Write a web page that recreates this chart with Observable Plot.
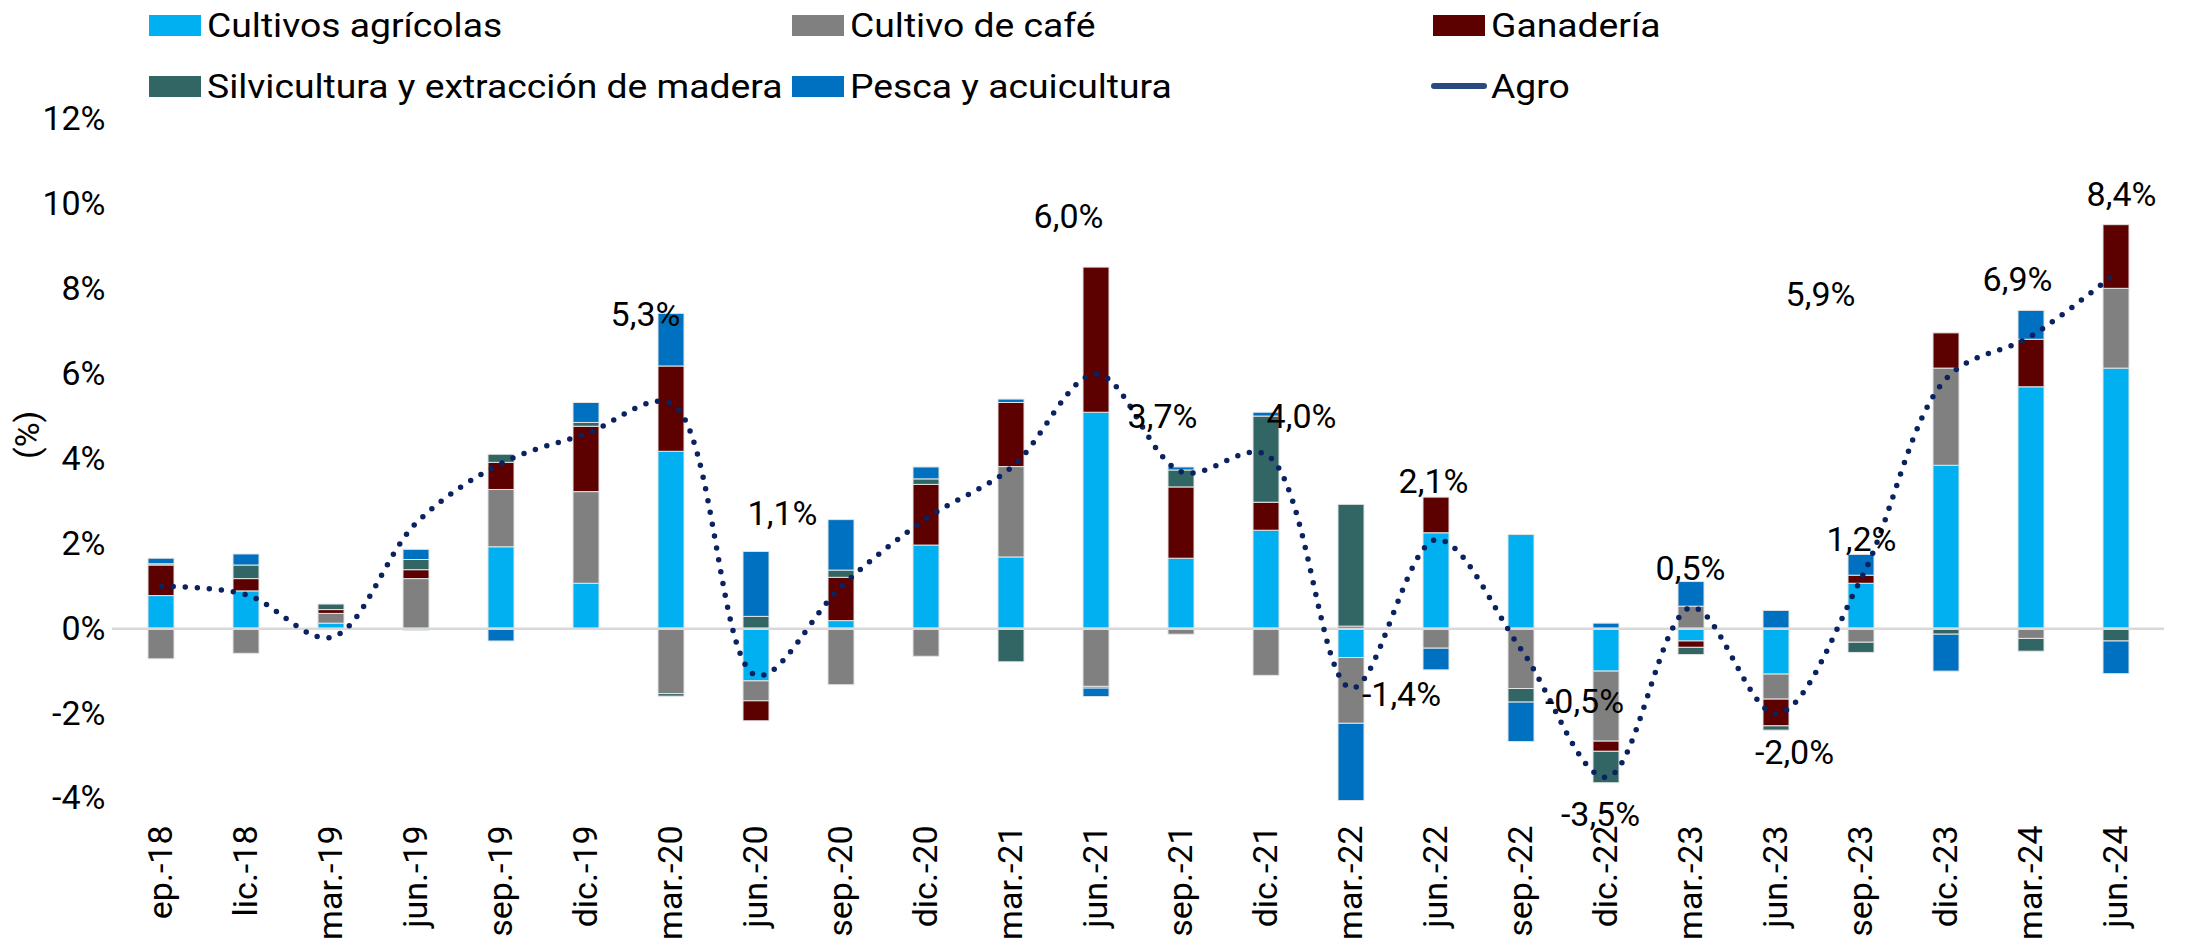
<!DOCTYPE html>
<html><head><meta charset="utf-8">
<script src="https://cdn.jsdelivr.net/npm/d3@7"></script>
<script src="https://cdn.jsdelivr.net/npm/@observablehq/plot@0.6"></script>
<style>
body{margin:0;background:#fff;font-family:Roboto,sans-serif;}
#legend{position:relative;width:2193px;height:100px;}
.item{position:absolute;display:flex;align-items:center;height:40px;font-size:33px;color:#000;white-space:nowrap;font-family:Roboto,sans-serif;}
.item .tx{display:inline-block;transform:scaleX(1.13);transform-origin:left center;}
.sw{display:inline-block;width:52px;height:21px;margin-right:6px;}
.ln{display:inline-block;width:56px;height:6px;border-radius:3px;margin-right:4px;}
</style></head><body>
<div id="legend"></div><div id="chart"></div>
<script>
// ---- DATA ----
const categories = ["ep.-18","lic.-18","mar.-19","jun.-19","sep.-19","dic.-19","mar.-20","jun.-20","sep.-20","dic.-20","mar.-21","jun.-21","sep.-21","dic.-21","mar.-22","jun.-22","sep.-22","dic.-22","mar.-23","jun.-23","sep.-23","dic.-23","mar.-24","jun.-24"];
const cultivosAgricolas = [0.77,0.88,0.12,-0.05,1.92,1.06,4.17,-1.24,0.18,1.96,1.68,5.09,1.65,2.31,-0.69,2.25,2.21,-1.01,-0.30,-1.08,1.06,3.84,5.69,6.13];
const cultivoCafe = [-0.72,-0.59,0.23,1.17,1.35,2.16,-1.54,-0.47,-1.33,-0.66,2.13,-1.37,-0.14,-1.11,-1.55,-0.47,-1.42,-1.65,0.52,-0.59,-0.33,2.29,-0.24,1.88];
const ganaderia = [0.72,0.29,0.09,0.21,0.64,1.54,2.01,-0.47,1.02,1.43,1.51,3.42,1.68,0.66,0.05,0.84,0,-0.24,-0.15,-0.63,0.19,0.83,1.12,1.50];
const silvicultura = [0.03,0.32,0.13,0.24,0.19,0.09,-0.06,0.28,0.17,0.13,-0.79,-0.04,0.40,2.03,2.87,0,-0.32,-0.74,-0.17,-0.10,-0.24,-0.14,-0.30,-0.30];
const pesca = [0.13,0.26,0,0.24,-0.30,0.47,1.24,1.53,1.19,0.28,0.08,-0.20,0.07,0.09,-1.82,-0.51,-0.93,0.12,0.58,0.42,0.49,-0.87,0.68,-0.77];
const agro = [1.0,0.8,-0.2,2.5,3.9,4.6,5.3,-1.1,1.0,2.6,3.8,6.0,3.7,4.1,-1.4,2.1,-0.5,-3.5,0.5,-2.0,1.2,5.9,6.9,8.4];
const agroLabels = ["","","","","","","5,3%","1,1%","","","","6,0%","3,7%","4,0%","-1,4%","2,1%","-0,5%","-3,5%","0,5%","-2,0%","1,2%","5,9%","6,9%","8,4%"];
const seriesNames = ["Cultivos agrícolas","Cultivo de café","Ganadería","Silvicultura y extracción de madera","Pesca y acuicultura"];
const lineName = "Agro";
const yTicks = [-4,-2,0,2,4,6,8,10,12];
const yLabel = "(%)";

// ---- STYLE ----
const seriesColors = ["#00B0F0","#808080","#5C0000","#316664","#0070C0"];
const lineColor = "#0A2260";
const legendLineColor = "#294A7E";

// ---- LEGEND ----
const legendPos = [[149,25],[792,25],[1433,25],[149,86],[792,86],[1431,86]];
const legend = document.getElementById("legend");
[...seriesNames, lineName].forEach((name, i) => {
  const d = document.createElement("div");
  d.className = "item";
  d.style.left = legendPos[i][0] + "px";
  d.style.top = (legendPos[i][1] - 20) + "px";
  const m = document.createElement("span");
  if (i < seriesNames.length) { m.className = "sw"; m.style.background = seriesColors[i]; }
  else { m.className = "ln"; m.style.background = legendLineColor; }
  d.appendChild(m);
  const t = document.createElement("span");
  t.className = "tx";
  t.textContent = name;
  d.appendChild(t);
  legend.appendChild(d);
});

// ---- TABLES ----
const seriesValues = [cultivosAgricolas, cultivoCafe, ganaderia, silvicultura, pesca];
const rows = [];
seriesNames.forEach((s, i) => categories.forEach((c, j) => rows.push({cat: c, serie: s, value: seriesValues[i][j]})));
const agroRows = categories.map((c, j) => ({cat: c, value: agro[j], label: agroLabels[j]}));

// label offsets (layout)
const labelOffsets = {6:[-26,-89],7:[26,-161],11:[-28,-157],12:[-19,-55],13:[35,-38],14:[50,7],15:[-3,-58],16:[63,52],17:[-6,38],18:[-1,-38],19:[18,39],20:[0,-38],21:[-126,-83],22:[-14,-56],23:[5,-77]};
const labelMarks = Object.entries(labelOffsets).map(([j, [dx, dy]]) =>
  Plot.text([agroRows[+j]], {x: "cat", y: "value", text: "label", dx, dy, fontSize: 34, fill: "#000", textAnchor: "middle", lineAnchor: "middle"})
);

const chart = Plot.plot({
  width: 2193, height: 848,
  marginLeft: 112, marginRight: 29, marginTop: 19, marginBottom: 150,
  style: {fontFamily: "Roboto, sans-serif", fontSize: "34px", color: "#000", background: "#fff", overflow: "visible"},
  x: {domain: categories, paddingInner: 0.7, paddingOuter: 0.35, label: null, tickSize: 0, tickPadding: 27, tickRotate: -90},
  y: {domain: [-4, 12], ticks: yTicks, tickFormat: d => d + "%", label: null, tickSize: 0, tickPadding: 7},
  color: {domain: seriesNames, range: seriesColors},
  marks: [
    Plot.barY(rows, {x: "cat", y: "value", fill: "serie", stroke: "#e4e4e4", strokeWidth: 1}),
    Plot.ruleY([0], {stroke: "#d9d9d9", strokeWidth: 2.5}),
    Plot.line(agroRows, {x: "cat", y: "value", curve: "catmull-rom", stroke: lineColor, strokeWidth: 5.5, strokeDasharray: "0 12", strokeLinecap: "round"}),
    ...labelMarks,
    Plot.text([yLabel], {frameAnchor: "left", dx: -84, rotate: -90, fontSize: 34, fill: "#000"})
  ]
});
document.getElementById("chart").appendChild(chart);
</script>
</body></html>
